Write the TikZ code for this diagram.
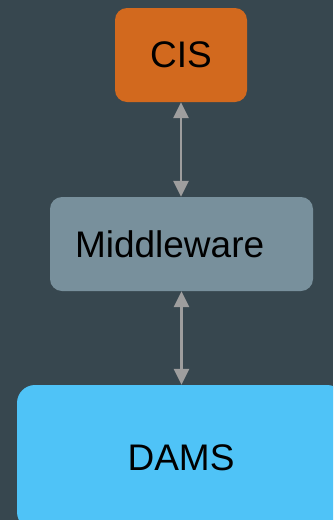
\documentclass[tikz,border=0pt]{standalone}
\usepackage{fontspec}
\setmainfont{Liberation Sans}
\usetikzlibrary{arrows.meta}
\definecolor{bgslate}{HTML}{37474F}
\definecolor{cisorange}{HTML}{D2691E}
\definecolor{mwgrey}{HTML}{78909C}
\definecolor{damsblue}{HTML}{4FC3F7}
\definecolor{linkgrey}{HTML}{9E9E9E}
\tikzset{
  box/.style={draw=none, rounded corners=12pt, inner sep=0pt,
    font=\fontsize{37}{41}\selectfont, text=black},
  link/.style={draw=linkgrey, line width=2.5pt,
    {Triangle[length=16pt,width=15pt]}-{Triangle[length=16pt,width=15pt]}}
}
\begin{document}
\begin{tikzpicture}[x=1pt, y=-1pt]
  \useasboundingbox (0,0) rectangle (333,520);
  \fill[bgslate] (0,0) rectangle (333,520);
  \clip (0,0) rectangle (333,520);
  % system boxes
  \node[box, fill=cisorange, minimum width=132pt, minimum height=94pt]
    (cis) at (181,55) {CIS};
  \node[box, fill=mwgrey, minimum width=263pt, minimum height=94pt,
    text width=213pt, align=left, inner xsep=25pt]
    (mw) at (181.5,244) {Middleware};
  \node[box, fill=damsblue, rounded corners=18pt,
    minimum width=328pt, minimum height=145pt]
    (dams) at (181,457.5) {DAMS};
  % bidirectional links
  \draw[link] (cis.south) -- (cis.south |- mw.north);
  \draw[link] (mw.south) -- (mw.south |- dams.north);
\end{tikzpicture}
\end{document}
